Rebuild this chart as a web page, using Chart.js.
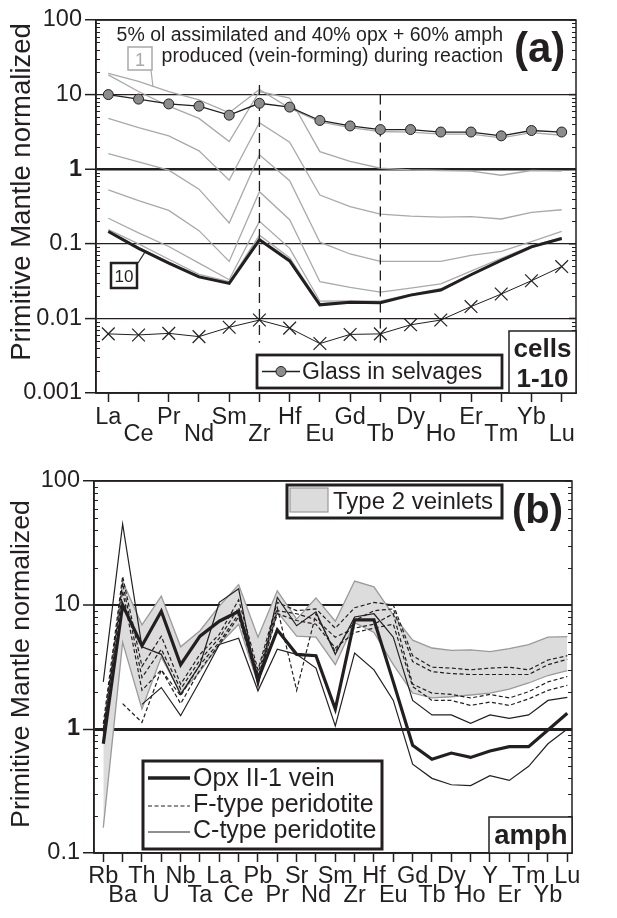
<!DOCTYPE html>
<html><head><meta charset="utf-8">
<script src="https://cdn.jsdelivr.net/npm/chart.js@4.4.1/dist/chart.umd.min.js"></script>
<style>
html,body{margin:0;padding:0;background:#fff;}
#wrap{width:617px;height:918px;position:relative;overflow:hidden;background:#fff;}
canvas{display:block;position:absolute;left:0;}
#ca{top:0;} #cb{top:460px;}
</style></head><body>
<div id="wrap"><canvas id="ca" width="617" height="460"></canvas><canvas id="cb" width="617" height="458"></canvas></div>
<script>
// ---------------- DATA: panel (a) ----------------
const aLabels = ['La','Ce','Pr','Nd','Sm','Zr','Hf','Eu','Gd','Tb','Dy','Ho','Er','Tm','Yb','Lu'];
const aTicks = [100, 10, 1, 0.1, 0.01, 0.001];
const aGlass  = [10, 8.7, 7.5, 7.0, 5.3, 7.65, 6.8, 4.5, 3.8, 3.4, 3.4, 3.15, 3.15, 2.8, 3.3, 3.15];
const aCell1  = [19.2, 15, 11, 8.5, 5.7, 11.7, 6.6, 4.3, 3.6, 3.2, 3.15, 2.95, 2.95, 2.63, 3.1, 2.85];
const aCell2  = [18.4, 11, 7.0, 4.8, 2.35, 11.0, 9.0, 1.72, 1.27, 1.03, 0.98, 0.96, 0.94, 0.83, 0.96, 0.94];
const aCell3  = [4.8, 3.6, 2.8, 1.76, 0.71, 4.2, 2.3, 0.45, 0.316, 0.25, 0.235, 0.228, 0.232, 0.215, 0.263, 0.286];
const aCell4  = [1.62, 1.25, 0.97, 0.54, 0.19, 1.56, 0.70, 0.105, 0.073, 0.058, 0.058, 0.058, 0.07, 0.079, 0.107, 0.147];
const aCell5  = [0.53, 0.38, 0.28, 0.15, 0.058, 0.50, 0.21, 0.031, 0.026, 0.0225, 0.0255, 0.029, 0.043, 0.064, 0.094, 0.121];
const aCell6  = [0.22, 0.14, 0.092, 0.055, 0.033, 0.20, 0.087, 0.017, 0.0172, 0.017, 0.021, 0.025, 0.039, 0.062, 0.093, 0.12];
const aCell7  = [0.155, 0.1, 0.062, 0.039, 0.031, 0.13, 0.065, 0.0158, 0.0168, 0.0166, 0.0208, 0.0245, 0.0388, 0.0605, 0.0915, 0.119];
const aCell8  = [0.149, 0.09, 0.057, 0.037, 0.030, 0.118, 0.061, 0.0154, 0.0166, 0.0164, 0.0206, 0.0242, 0.0386, 0.0602, 0.091, 0.1185];
const aCell9  = [0.147, 0.088, 0.056, 0.0365, 0.0298, 0.115, 0.06, 0.0153, 0.0165, 0.0163, 0.0205, 0.0241, 0.0385, 0.0601, 0.091, 0.118];
const aCell10 = [0.146, 0.087, 0.055, 0.036, 0.0295, 0.113, 0.059, 0.0152, 0.0164, 0.0162, 0.0205, 0.024, 0.0385, 0.06, 0.091, 0.118];
const aCross  = [0.0062, 0.006, 0.0063, 0.0057, 0.0076, 0.0095, 0.0074, 0.0046, 0.0061, 0.0062, 0.0082, 0.0095, 0.0144, 0.0212, 0.032, 0.0495];

// ---------------- DATA: panel (b) ----------------
const bLabels = ['Rb','Ba','Th','U','Nb','Ta','La','Ce','Pb','Pr','Sr','Nd','Sm','Zr','Hf','Eu','Gd','Tb','Dy','Ho','Y','Er','Tm','Yb','Lu'];
const bTicks = [100, 10, 1, 0.1];
const bBandUpper = [0.9, 15.5, 6.9, 11.8, 4.6, 6.2, 9.8, 14.6, 5.5, 13.0, 7.7, 11.4, 7.4, 15.6, 14.0, 8.3, 5.2, 4.5, 4.3, 4.35, 4.2, 4.45, 4.8, 5.5, 5.55];
const bBandLower = [0.16, 5.0, 1.45, 3.8, 1.95, 2.9, 4.8, 7.0, 2.3, 8.8, 5.6, 5.5, 3.3, 7.2, 6.0, 3.3, 1.95, 1.78, 1.82, 1.88, 1.95, 2.1, 2.35, 2.7, 2.95];
const bOpx = [0.76, 10, 4.7, 8.9, 3.3, 5.6, 7.4, 8.9, 2.5, 6.3, 4.0, 3.9, 1.45, 7.6, 7.6, 2.4, 0.74, 0.57, 0.64, 0.59, 0.665, 0.72, 0.72, 0.98, 1.34];
const bF1 = [1.1, 17, 3.2, 5.6, 2.3, 4.0, 5.8, 11, 3.0, 10.5, 9.0, 9.3, 6.5, 9.5, 10.5, 10.0, 3.9, 3.15, 3.1, 3.0, 3.1, 3.15, 3.0, 3.6, 3.9];
const bF2 = [1.0, 15, 2.6, 4.4, 2.1, 3.6, 5.4, 9.5, 2.8, 9.5, 2.05, 8.5, 4.2, 7.5, 9.0, 9.3, 3.5, 2.9, 2.8, 2.75, 2.75, 2.75, 2.75, 3.3, 3.65];
const bF3 = [0.95, 13, 2.05, 3.0, 1.85, 3.3, 5.0, 8.5, 2.6, 9.0, 8.5, 7.6, 5.5, 6.5, 7.0, 8.5, 2.3, 1.95, 1.9, 1.78, 1.9, 1.78, 2.0, 2.4, 2.65];
const bF4 = [null, 1.6, 1.13, 3.0, 1.6, 3.0, 4.8, 8.0, 2.4, 8.5, 7.5, 7.0, 4.5, 6.0, 6.5, 7.0, 2.2, 1.7, 1.7, 1.55, 1.65, 1.55, 1.75, 2.05, 2.25];
const bC1 = [2.4, 45, 4.6, 4.0, 1.9, 3.3, 10.5, 13.5, 2.2, 11.5, 6.8, 8.8, 4.0, 8.0, 8.5, 5.5, 1.7, 1.3, 1.3, 1.11, 1.3, 1.22, 1.3, 1.7, 1.8];
const bC2 = [null, null, 1.58, 2.16, 1.28, 2.44, 4.8, 5.4, 2.03, 4.4, 4.0, 3.1, 1.06, 4.1, 3.0, 1.7, 0.52, 0.40, 0.355, 0.35, 0.42, 0.385, 0.5, 0.76, 1.0];

// ---------------- STYLE ----------------
const INK = '#231f20';
const GREY = '#a9a9a9';
const FAM = "'Liberation Sans', Arial, Helvetica, sans-serif";
Chart.defaults.font.family = FAM;
Chart.defaults.color = INK;
Chart.defaults.elements.line.tension = 0;
Chart.defaults.elements.line.fill = false;

const pts = arr => arr.map((v, i) => ({x: i, y: v}));

function logAxis(decades, width, widths) {
  return {
    type: 'logarithmic', position: 'left',
    min: decades[decades.length - 1], max: decades[0],
    afterBuildTicks: s => { s.ticks = decades.map(v => ({value: v, major: true})); },
    afterFit: s => { s.width = width; },
    ticks: {
      autoSkip: false, padding: 3, color: INK,
      callback: v => String(v),
      font: c => ({size: 23.5, weight: (c.tick && c.tick.value === 1) ? 'bold' : 'normal'})
    },
    grid: {
      color: INK, tickColor: INK, tickLength: 11, tickWidth: 1.5,
      lineWidth: c => { const v = c.tick ? c.tick.value : 0; return widths[v] !== undefined ? widths[v] : 1.2; }
    },
    border: {display: true, color: INK, width: 1.5}
  };
}
function catAxis(labels, min, max, height, pad, lh) {
  return {
    type: 'linear', min: min, max: max,
    afterBuildTicks: s => { s.ticks = labels.map((_, i) => ({value: i})); },
    afterFit: s => { s.height = height; },
    ticks: {
      autoSkip: false, maxRotation: 0, minRotation: 0, padding: pad, color: INK,
      font: {size: 23.5, lineHeight: lh},
      callback: v => { const i = Math.round(v); return i % 2 === 0 ? [labels[i]] : ['', labels[i]]; }
    },
    grid: {drawOnChartArea: false, drawTicks: true, tickLength: 9, tickWidth: 1.5, tickColor: INK, color: INK},
    border: {display: true, color: INK, width: 1.5}
  };
}
function minorTicks(ctx, a, y, decades) {
  ctx.strokeStyle = INK; ctx.lineWidth = 1;
  for (let j = 1; j < decades.length; j++) {
    const d = decades[j];
    for (let k = 2; k <= 9; k++) {
      const p = Math.round(y.getPixelForValue(k * d)) + 0.5;
      ctx.beginPath();
      ctx.moveTo(a.left, p); ctx.lineTo(a.left + 4, p);
      ctx.moveTo(a.right - 4, p); ctx.lineTo(a.right, p);
      ctx.stroke();
    }
  }
  ctx.lineWidth = 1.5;
  decades.forEach(v => {
    const p = y.getPixelForValue(v);
    ctx.beginPath(); ctx.moveTo(a.right - 7, p); ctx.lineTo(a.right, p); ctx.stroke();
  });
}
function txt(ctx, s, x, y, font, align, color) {
  ctx.font = font; ctx.fillStyle = color || INK; ctx.textAlign = align || 'left';
  ctx.textBaseline = 'alphabetic'; ctx.fillText(s, x, y);
}
function box(ctx, x, y, w, h, lw, color) {
  ctx.fillStyle = '#fff'; ctx.fillRect(x, y, w, h);
  ctx.strokeStyle = color || INK; ctx.lineWidth = lw; ctx.strokeRect(x, y, w, h);
}
function yTitle(ctx, cx, cy, size) {
  ctx.save(); ctx.translate(cx, cy); ctx.rotate(-Math.PI / 2);
  ctx.font = size + 'px ' + FAM; ctx.fillStyle = INK; ctx.textAlign = 'center'; ctx.textBaseline = 'middle';
  ctx.fillText('Primitive Mantle normalized', 0, 0);
  ctx.restore();
}

// ---------------- PANEL (a) ----------------
const greyLine = (d) => ({data: pts(d), borderColor: GREY, borderWidth: 1.3, pointRadius: 0, order: 6});
const annoA = {
  id: 'annoA',
  afterDraw(chart) {
    const {ctx, chartArea: a, scales: {y}} = chart;
    ctx.save();
    ctx.strokeStyle = INK; ctx.lineWidth = 1.5;
    ctx.strokeRect(a.left, a.top, a.right - a.left, a.bottom - a.top);
    minorTicks(ctx, a, y, aTicks);
    yTitle(ctx, 22, 192, 27.5);
    txt(ctx, '5% ol assimilated and 40% opx + 60% amph', 503, 41, '19.5px ' + FAM, 'right');
    txt(ctx, 'produced (vein-forming) during reaction', 503, 62, '19.5px ' + FAM, 'right');
    txt(ctx, '(a)', 514, 62, 'bold 42px ' + FAM, 'left');
    // cell 1 label
    box(ctx, 128, 47, 24, 23, 1.5, GREY);
    txt(ctx, '1', 140, 66, '18px ' + FAM, 'center', GREY);
    ctx.strokeStyle = GREY; ctx.lineWidth = 1.2;
    ctx.beginPath(); ctx.moveTo(151, 70); ctx.lineTo(153, 87); ctx.stroke();
    // cell 10 label
    ctx.strokeStyle = INK; ctx.lineWidth = 1.2;
    ctx.beginPath(); ctx.moveTo(138, 263); ctx.lineTo(145, 252); ctx.stroke();
    box(ctx, 111, 263, 26, 25, 2.5, INK);
    txt(ctx, '10', 124, 282, '17px ' + FAM, 'center');
    // glass legend
    box(ctx, 257, 355, 245, 33, 2.8, INK);
    ctx.strokeStyle = INK; ctx.lineWidth = 1.3;
    ctx.beginPath(); ctx.moveTo(262, 371.5); ctx.lineTo(300, 371.5); ctx.stroke();
    ctx.beginPath(); ctx.arc(281, 371.5, 5, 0, Math.PI * 2); ctx.fillStyle = '#8c8c8c'; ctx.fill(); ctx.lineWidth = 1; ctx.stroke();
    txt(ctx, 'Glass in selvages', 302, 379, '23px ' + FAM, 'left');
    // cells box
    box(ctx, 509, 331, a.right - 509, a.bottom - 331, 1.5, INK);
    txt(ctx, 'cells', 542.5, 357, 'bold 26px ' + FAM, 'center');
    txt(ctx, '1-10', 542.5, 387, 'bold 26px ' + FAM, 'center');
    ctx.restore();
  }
};
new Chart(document.getElementById('ca'), {
  type: 'line',
  data: {
    datasets: [
      {data: pts(aGlass), borderColor: INK, borderWidth: 1.3, pointRadius: 5, pointBackgroundColor: '#8c8c8c', pointBorderColor: INK, pointBorderWidth: 1, order: 0},
      {data: pts(aCross), borderColor: INK, borderWidth: 1, pointStyle: 'crossRot', pointRadius: 9, pointBorderColor: INK, pointBorderWidth: 1.2, order: 1},
      {data: pts(aCell10), borderColor: INK, borderWidth: 3, pointRadius: 0, order: 2},
      {data: [{x: 5, y: 13.5}, {x: 5, y: 0.0047}], borderColor: INK, borderWidth: 1.3, borderDash: [10, 6], pointRadius: 0, order: 3},
      {data: [{x: 9, y: 10}, {x: 9, y: 0.0047}], borderColor: INK, borderWidth: 1.3, borderDash: [10, 6], pointRadius: 0, order: 3},
      greyLine(aCell1), greyLine(aCell2), greyLine(aCell3), greyLine(aCell4), greyLine(aCell5),
      greyLine(aCell6), greyLine(aCell7), greyLine(aCell8), greyLine(aCell9)
    ]
  },
  options: {
    responsive: false, animation: false, devicePixelRatio: 1,
    layout: {padding: {left: 0, right: 617 - 576, top: 20, bottom: 0}},
    plugins: {legend: {display: false}, tooltip: {enabled: false}},
    scales: {
      x: catAxis(aLabels, -0.407, 15.473, 67, 7.5, 17 / 23.5),
      y: logAxis(aTicks, 96, {1: 2.5, 100: 1.5, 0.001: 1.5})
    }
  },
  plugins: [annoA]
});

// ---------------- PANEL (b) ----------------
const fLine = (d) => ({data: pts(d), borderColor: INK, borderWidth: 1.2, borderDash: [4, 2.5], pointRadius: 0, order: 4});
const cLine = (d) => ({data: pts(d), borderColor: INK, borderWidth: 1.2, pointRadius: 0, order: 3});
const annoB = {
  id: 'annoB',
  afterDraw(chart) {
    const {ctx, chartArea: a, scales: {y}} = chart;
    ctx.save();
    ctx.strokeStyle = INK; ctx.lineWidth = 1.5;
    ctx.strokeRect(a.left, a.top, a.right - a.left, a.bottom - a.top);
    minorTicks(ctx, a, y, bTicks);
    yTitle(ctx, 22, 204, 26.7);
    // Type 2 veinlets legend
    box(ctx, 287, 25, 215, 33, 3, INK);
    ctx.fillStyle = '#dcdcdc'; ctx.fillRect(290, 28, 38, 24);
    ctx.strokeStyle = '#999'; ctx.lineWidth = 1.2; ctx.strokeRect(290, 28, 38, 24);
    txt(ctx, 'Type 2 veinlets', 333, 49, '24px ' + FAM, 'left');
    txt(ctx, '(b)', 512, 63, 'bold 40px ' + FAM, 'left');
    // lower legend
    box(ctx, 143, 301, 239, 88, 3, INK);
    ctx.strokeStyle = INK;
    ctx.lineWidth = 3.5; ctx.beginPath(); ctx.moveTo(148, 318); ctx.lineTo(190, 318); ctx.stroke();
    ctx.lineWidth = 1.2; ctx.setLineDash([4, 2.5]); ctx.beginPath(); ctx.moveTo(148, 346); ctx.lineTo(190, 346); ctx.stroke();
    ctx.setLineDash([]); ctx.beginPath(); ctx.moveTo(148, 372); ctx.lineTo(190, 372); ctx.stroke();
    txt(ctx, 'Opx II-1 vein', 193, 326, '25px ' + FAM, 'left');
    txt(ctx, 'F-type peridotite', 193, 352, '25px ' + FAM, 'left');
    txt(ctx, 'C-type peridotite', 193, 378, '25px ' + FAM, 'left');
    // amph box
    box(ctx, 489, 357, a.right - 489, a.bottom - 357, 1.5, INK);
    txt(ctx, 'amph', 531, 384, 'bold 27.5px ' + FAM, 'center');
    ctx.restore();
  }
};
new Chart(document.getElementById('cb'), {
  type: 'line',
  data: {
    datasets: [
      {data: pts(bOpx), borderColor: INK, borderWidth: 3.2, pointRadius: 0, order: 0},
      cLine(bC1), cLine(bC2),
      fLine(bF1), fLine(bF2), fLine(bF3), fLine(bF4),
      {data: pts(bBandLower), borderColor: '#9a9a9a', borderWidth: 1.3, pointRadius: 0, order: 10},
      {data: pts(bBandUpper), borderColor: '#9a9a9a', borderWidth: 1.3, pointRadius: 0, backgroundColor: '#dcdcdc', fill: '-1', order: 10}
    ]
  },
  options: {
    responsive: false, animation: false, devicePixelRatio: 1,
    layout: {padding: {left: 0, right: 617 - 572, top: 21, bottom: 0}},
    plugins: {legend: {display: false}, tooltip: {enabled: false}, filler: {propagate: false}},
    scales: {
      x: catAxis(bLabels, -0.481, 24.243, 65, 5.5, 19 / 23.5),
      y: logAxis(bTicks, 94, {1: 3, 10: 2, 100: 1.5, 0.1: 1.5})
    }
  },
  plugins: [annoB]
});
</script>
</body></html>
